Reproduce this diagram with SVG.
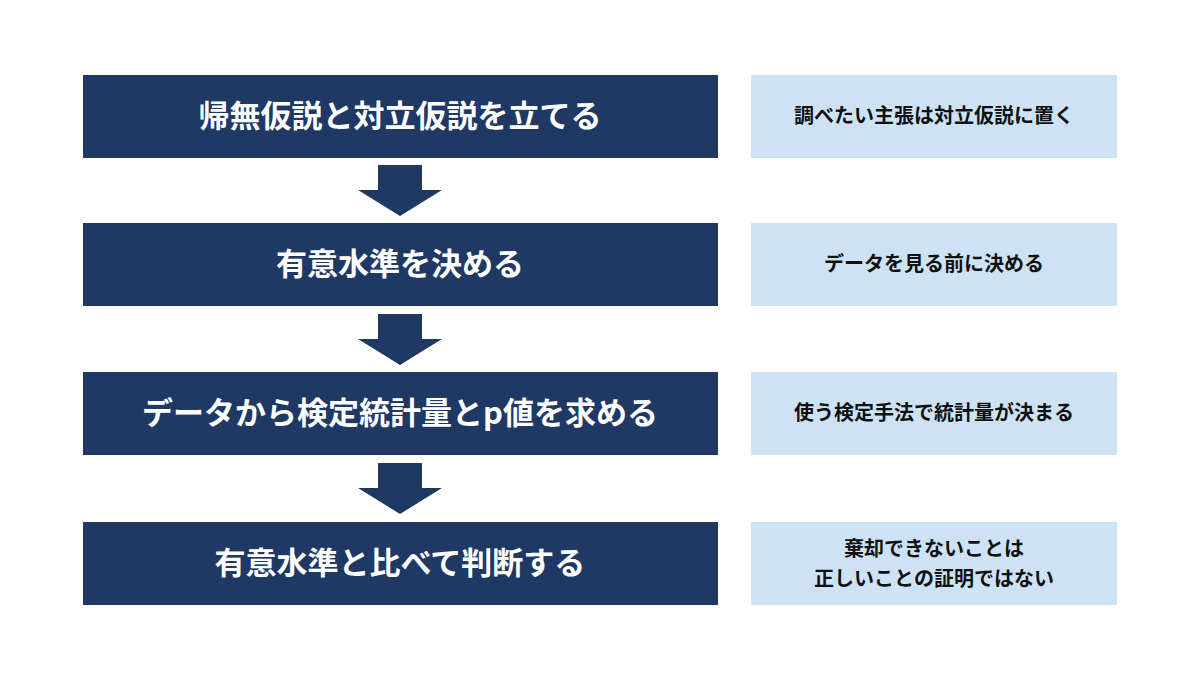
<svg xmlns="http://www.w3.org/2000/svg" width="1200" height="675" viewBox="0 0 1200 675">
<style>
.m{fill:#1f3864}
.n{fill:#cde3f5}
.mt{font-family:"Noto Sans CJK JP","Noto Sans",sans-serif;font-weight:bold;font-size:31px;fill:#fff;text-anchor:middle}
.nt{font-family:"Noto Sans CJK JP","Noto Sans",sans-serif;font-weight:bold;font-size:20px;fill:#111;text-anchor:middle}
.a{fill:#1f3864}
</style>
<rect width="1200" height="675" fill="#fff"/>
<g id="step1"><rect class="m" x="83" y="75" width="635" height="83"/><text class="mt" x="400" y="127">帰無仮説と対立仮説を立てる</text></g>
<g id="step2"><rect class="m" x="83" y="223" width="635" height="83"/><text class="mt" x="400" y="275">有意水準を決める</text></g>
<g id="step3"><rect class="m" x="83" y="372" width="635" height="83"/><text class="mt" x="400" y="424">データから検定統計量とp値を求める</text></g>
<g id="step4"><rect class="m" x="83" y="522" width="635" height="83"/><text class="mt" x="400" y="574">有意水準と比べて判断する</text></g>
<g id="note1"><rect class="n" x="751" y="75" width="366" height="83"/><text class="nt" x="934" y="123">調べたい主張は対立仮説に置く</text></g>
<g id="note2"><rect class="n" x="751" y="223" width="366" height="83"/><text class="nt" x="934" y="271">データを見る前に決める</text></g>
<g id="note3"><rect class="n" x="751" y="372" width="366" height="83"/><text class="nt" x="934" y="420">使う検定手法で統計量が決まる</text></g>
<g id="note4"><rect class="n" x="751" y="522" width="366" height="83"/><text class="nt" x="934" y="556">棄却できないことは</text><text class="nt" x="934" y="586">正しいことの証明ではない</text></g>
<g id="connectors">
<polygon class="a" points="378,165 422,165 422,190 442,190 400,216 358,190 378,190"/>
<polygon class="a" points="378,314 422,314 422,339 442,339 400,365 358,339 378,339"/>
<polygon class="a" points="378,463 422,463 422,488 442,488 400,514 358,488 378,488"/>
</g>
</svg>
